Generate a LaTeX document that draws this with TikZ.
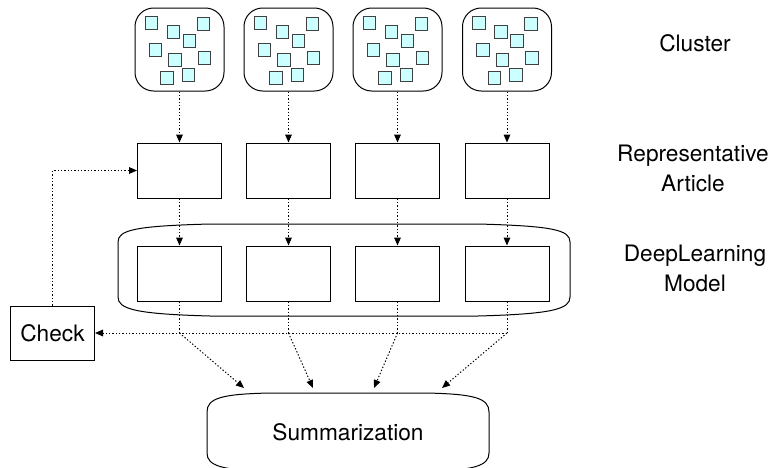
\documentclass[tikz,border=0pt]{standalone}
\usepackage{fontspec}
\setmainfont{TeX Gyre Heros}
\usetikzlibrary{arrows.meta,calc}
\definecolor{docfill}{RGB}{204,255,255}

\begin{document}
\begin{tikzpicture}[x=0.75pt, y=-0.75pt, line width=0.75pt,
	every node/.style={font=\fontsize{17}{22.5}\selectfont},
	>={Triangle[length=6pt, width=5pt]},
	flow/.style={dash pattern=on 1pt off 1.5pt},
	clusterbox/.style={draw, rounded corners=14pt, minimum width=66.75pt, minimum height=62.25pt},
	doc/.style={draw=black!75, fill=docfill, line width=0.75pt, minimum size=9.5pt, inner sep=0pt},
	box/.style={draw, minimum width=63pt, minimum height=41.25pt, inner sep=0pt}]
	\clip (0,0) rectangle (772,468);
	% deep learning group and summarization outline
	\draw (118,242) .. controls (118,230) and (135,226) .. (210,224) -- (478,224) .. controls (553,226) and (570,230) .. (570,242) -- (570,297) .. controls (570,309) and (553,314) .. (478,316) -- (210,316) .. controls (135,314) and (118,309) .. (118,297) -- cycle;
	\draw (207,412) .. controls (207,398) and (222,394) .. (270,393) -- (426,393) .. controls (474,394) and (489,398) .. (489,412) -- (489,453) .. controls (489,466) and (474,470) .. (426,472) -- (270,472) .. controls (222,470) and (207,466) .. (207,453) -- cycle;
	\node[minimum width=211.5pt, minimum height=59pt] (summ) at (348,432) {Summarization};
	\node[draw, minimum width=63pt, minimum height=40.5pt] (chk) at (52.5,333) {Check};
	% the four columns
	\foreach \i/\x/\sx in {1/179.5/244, 2/288.5/313, 3/397.5/374, 4/507/442}{
		\node[clusterbox] (c\i) at (\x,49.5) {};
		\foreach \dx/\dy [count=\k] in {-28/-26.5, -6/-17.5, 24/-25.5, 10/-8.5, -24/0.5, -4.5/10.5, 25/8.5, -12.5/28.5, 9/25.5}
			\node[doc] (d\i\k) at ($(c\i.center)+(\dx,\dy)$) {};
		\node[box] (r\i) at (\x,170.5) {};
		\node[box] (m\i) at (\x,273.5) {};
		\coordinate (j\i) at (\x,333);
		\coordinate (s\i) at (\sx,388);
		\draw[->, flow] (c\i) -- (r\i);
		\draw[->, flow] (r\i) -- (m\i);
		\draw[flow] (m\i) -- (j\i);
		\draw[->, flow] (j\i) -- (s\i);
	}
	\draw[->, flow] (j4) -- (chk.east);
	\draw[->, flow] (chk.north) |- (r1.west);
	% row labels
	\node (lblcl) at (695,43) {Cluster};
	\node[align=center] (lblrep) at (693,168) {Representative\\Article};
	\node[align=center] (lbldl) at (695,268) {DeepLearning\\Model};
\end{tikzpicture}
\end{document}
